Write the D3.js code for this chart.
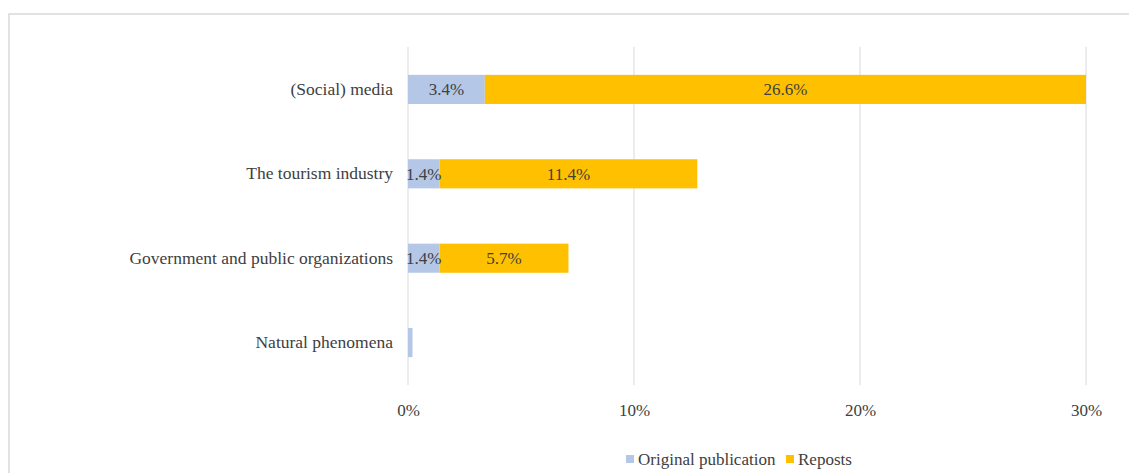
<!DOCTYPE html>
<html><head><meta charset="utf-8">
<script src="https://cdn.jsdelivr.net/npm/d3@7"></script>
<style>body{margin:0;background:#fff}svg{display:block}</style>
</head><body>
<script>
const categories = ["(Social) media","The tourism industry","Government and public organizations","Natural phenomena"];
const original = [3.4, 1.4, 1.4, 0.2];
const reposts = [26.6, 11.4, 5.7, 0];
const originalLabels = ["3.4%","1.4%","1.4%",""];
const repostLabels = ["26.6%","11.4%","5.7%",""];
const tickValues = [0,10,20,30];
const seriesNames = ["Original publication","Reposts"];
const colors = ["#b4c7e7","#ffc000"];

const W=1129,H=473;
const svg=d3.select("body").append("svg").attr("width",W).attr("height",H);
const font="'Liberation Serif', 'Times New Roman', serif";
const textColor="#404040";

svg.append("rect").attr("x",9).attr("y",14).attr("width",1300).attr("height",600)
  .attr("fill","none").attr("stroke","#d9d9d9").attr("stroke-width",1.5);

const x=d3.scaleLinear().domain([0,30]).range([408,1086]);
const y=d3.scaleBand().domain(categories).range([47,385]).paddingInner(0.655).paddingOuter(0.33);

svg.append("g").selectAll("line").data(tickValues).join("line")
  .attr("x1",d=>x(d)).attr("x2",d=>x(d)).attr("y1",47).attr("y2",385)
  .attr("stroke","#d9d9d9").attr("stroke-width",1);

const xAxis=svg.append("g").attr("transform","translate(0,385)")
  .call(d3.axisBottom(x).tickValues(tickValues).tickFormat(d=>d+"%").tickSize(0).tickPadding(19));
xAxis.select(".domain").remove();
xAxis.selectAll("text").attr("font-family",font).attr("font-size",17).attr("fill",textColor);

const yAxis=svg.append("g").attr("transform","translate(408,0)")
  .call(d3.axisLeft(y).tickSize(0).tickPadding(15));
yAxis.select(".domain").remove();
yAxis.selectAll("text").attr("font-family",font).attr("font-size",17.5).attr("fill",textColor);

const rows=categories.map((c,i)=>({c,o:original[i],r:reposts[i],ol:originalLabels[i],rl:repostLabels[i]}));
const g=svg.append("g");
g.selectAll(".o").data(rows).join("rect")
  .attr("x",x(0)).attr("y",d=>y(d.c)).attr("width",d=>x(d.o)-x(0)).attr("height",y.bandwidth()).attr("fill",colors[0]);
g.selectAll(".r").data(rows).join("rect")
  .attr("x",d=>x(d.o)).attr("y",d=>y(d.c)).attr("width",d=>x(d.o+d.r)-x(d.o)).attr("height",y.bandwidth()).attr("fill",colors[1]);
g.selectAll(".ot").data(rows).join("text")
  .attr("x",d=>(x(0)+x(d.o))/2).attr("y",d=>y(d.c)+y.bandwidth()/2).attr("dy","0.35em")
  .attr("text-anchor","middle").attr("font-family",font).attr("font-size",17).attr("fill",textColor).text(d=>d.ol);
g.selectAll(".rt").data(rows).join("text")
  .attr("x",d=>(x(d.o)+x(d.o+d.r))/2).attr("y",d=>y(d.c)+y.bandwidth()/2).attr("dy","0.35em")
  .attr("text-anchor","middle").attr("font-family",font).attr("font-size",17).attr("fill",textColor).text(d=>d.rl);

const leg=svg.append("g");
const legX=[626,786];
seriesNames.forEach((n,i)=>{
  leg.append("rect").attr("x",legX[i]).attr("y",455).attr("width",8).attr("height",8).attr("fill",colors[i]);
  leg.append("text").attr("x",legX[i]+12).attr("y",459).attr("dy","0.35em").attr("font-family",font)
    .attr("font-size",17).attr("fill",textColor).text(n);
});
</script>
</body></html>
